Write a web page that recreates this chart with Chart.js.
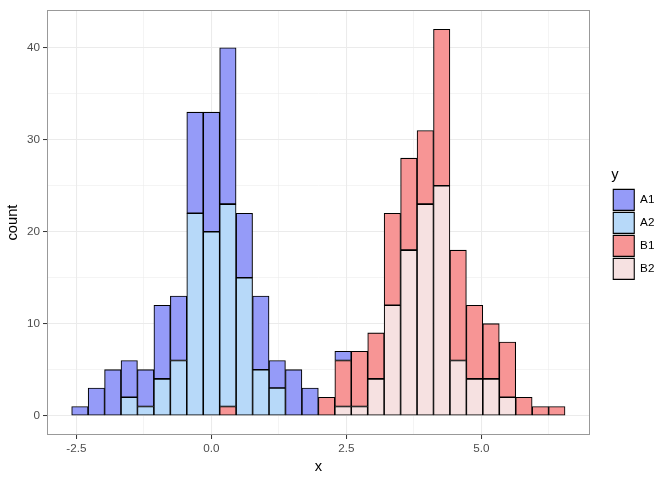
<!DOCTYPE html>
<html>
<head>
<meta charset="utf-8">
<script src="https://cdn.jsdelivr.net/npm/chart.js@4"></script>
<style>
  html, body { margin: 0; padding: 0; background: #fff; }
  #wrap { width: 672px; height: 480px; }
</style>
</head>
<body>
<div id="wrap"><canvas id="myChart" width="672" height="480"></canvas></div>
<script>
// bin centres of the histogram
const binCenters = [-2.434, -2.129, -1.825, -1.520, -1.216, -0.911, -0.606, -0.302, 0.003, 0.307,
    0.612, 0.917, 1.221, 1.526, 1.830, 2.135, 2.440, 2.744, 3.049, 3.353,
    3.658, 3.963, 4.267, 4.572, 4.876, 5.181, 5.486, 5.790, 6.095, 6.399];

// counts per group
const countA1 = [1, 3, 5, 4, 4, 8, 7, 11, 13, 17, 7, 8, 3, 5, 3, 0, 1, 0, 0, 0, 0, 0, 0, 0, 0, 0, 0, 0, 0, 0];
const countA2 = [0, 0, 0, 2, 1, 4, 6, 22, 20, 22, 15, 5, 3, 0, 0, 0, 0, 0, 0, 0, 0, 0, 0, 0, 0, 0, 0, 0, 0, 0];
const countB1 = [0, 0, 0, 0, 0, 0, 0, 0, 0, 1, 0, 0, 0, 0, 0, 2, 5, 6, 5, 10, 10, 8, 17, 12, 8, 6, 6, 2, 1, 1];
const countB2 = [0, 0, 0, 0, 0, 0, 0, 0, 0, 0, 0, 0, 0, 0, 0, 0, 1, 1, 4, 12, 18, 23, 25, 6, 4, 4, 2, 0, 0, 0];

const groups = ['A1', 'A2', 'B1', 'B2'];
const xMajor = [-2.5, 0, 2.5, 5];
const xMinor = [-1.25, 1.25, 3.75, 6.25];
const xLabels = ['-2.5', '0.0', '2.5', '5.0'];
const yMajor = [0, 10, 20, 30, 40];
const yMinor = [5, 15, 25, 35];

const fillColors = {
    A1: '#959bf8',
    A2: '#b7d9f9',
    B1: '#f79595',
    B2: '#f6e1e1'
};
const fontFamily = "'Liberation Sans', Arial, sans-serif";

function makeDataset(name, counts) {
    return {
        label: name,
        data: counts.map((v, i) => ({ x: binCenters[i], y: v === 0 ? null : v })),
        backgroundColor: fillColors[name],
        borderColor: '#000000',
        borderWidth: 1.1,
        borderSkipped: false,
        barPercentage: 1,
        categoryPercentage: 1,
        stack: 'all'
    };
}

// ggplot stacks the first level on top, so draw from the bottom up
const datasets = [
    makeDataset('B2', countB2),
    makeDataset('B1', countB1),
    makeDataset('A2', countA2),
    makeDataset('A1', countA1)
];

const panelBorder = {
    id: 'panelBorder',
    afterDatasetsDraw(chart) {
        const a = chart.chartArea;
        const ctx = chart.ctx;
        ctx.save();
        ctx.strokeStyle = '#999999';
        ctx.lineWidth = 1;
        ctx.strokeRect(Math.round(a.left) + 0.5, Math.round(a.top) + 0.5,
            Math.round(a.right - a.left) - 1, Math.round(a.bottom - a.top) - 1);
        ctx.restore();
    }
};

function isMinor(list, v) {
    return list.some(m => Math.abs(m - v) < 1e-6);
}

var ctx = document.getElementById('myChart');
var myChart = new Chart(ctx, {
    type: 'bar',
    data: { datasets: datasets },
    options: {
        responsive: false,
        animation: false,
        layout: {
            padding: { left: 0, top: 7, right: 7.6, bottom: 0 }
        },
        scales: {
            x: {
                type: 'linear',
                stacked: true,
                offset: false,
                min: -3.043,
                max: 7.011,
                afterBuildTicks: function (scale) {
                    scale.ticks = xMajor.concat(xMinor).map(v => ({ value: v }));
                },
                afterFit: function (scale) {
                    scale.height = 45;
                },
                ticks: {
                    autoSkip: false,
                    maxRotation: 0,
                    padding: 3,
                    color: '#4d4d4d',
                    font: { size: 11.7, family: fontFamily },
                    callback: function (value) {
                        const i = xMajor.findIndex(m => Math.abs(m - value) < 1e-6);
                        return i >= 0 ? xLabels[i] : '';
                    }
                },
                grid: {
                    offset: false,
                    color: '#ebebeb',
                    lineWidth: c => (c.tick && isMinor(xMinor, c.tick.value)) ? 0.55 : 1.07,
                    tickColor: c => (c.tick && isMinor(xMinor, c.tick.value)) ? 'rgba(0,0,0,0)' : '#333333',
                    tickWidth: 1,
                    tickLength: 4
                },
                border: { display: false },
                title: {
                    display: true,
                    text: 'x',
                    color: '#000000',
                    font: { size: 14.7, family: fontFamily },
                    padding: { top: 4, bottom: 4 }
                }
            },
            y: {
                type: 'linear',
                stacked: true,
                min: -2.1,
                max: 44.1,
                afterBuildTicks: function (scale) {
                    scale.ticks = yMajor.concat(yMinor).map(v => ({ value: v }));
                },
                afterFit: function (scale) {
                    scale.width = 47;
                },
                ticks: {
                    autoSkip: false,
                    padding: 3,
                    color: '#4d4d4d',
                    font: { size: 11.7, family: fontFamily },
                    callback: function (value) {
                        return yMajor.includes(value) ? String(value) : '';
                    }
                },
                grid: {
                    color: '#ebebeb',
                    lineWidth: c => (c.tick && isMinor(yMinor, c.tick.value)) ? 0.55 : 1.07,
                    tickColor: c => (c.tick && isMinor(yMinor, c.tick.value)) ? 'rgba(0,0,0,0)' : '#333333',
                    tickWidth: 1,
                    tickLength: 4
                },
                border: { display: false },
                title: {
                    display: true,
                    text: 'count',
                    color: '#000000',
                    font: { size: 14.7, family: fontFamily },
                    padding: { top: 4, bottom: 4 }
                }
            },
            // empty box that pushes the legend away from the panel
            spacer: {
                type: 'linear',
                position: 'right',
                display: true,
                afterFit: function (scale) {
                    scale.width = 21.4;
                },
                ticks: { display: false },
                grid: { display: false, drawTicks: false },
                border: { display: false }
            }
        },
        plugins: {
            legend: {
                position: 'right',
                fullSize: false,
                align: 'center',
                title: {
                    display: true,
                    text: 'y',
                    position: 'start',
                    color: '#000000',
                    font: { size: 14.7, family: fontFamily },
                    padding: { top: 4, bottom: 2 }
                },
                labels: {
                    boxWidth: 21,
                    boxHeight: 21,
                    padding: 2,
                    color: '#000000',
                    font: { size: 11.7, family: fontFamily },
                    sort: (a, b) => b.datasetIndex - a.datasetIndex
                }
            },
            tooltip: { enabled: false }
        }
    },
    plugins: [panelBorder]
});
</script>
</body>
</html>
